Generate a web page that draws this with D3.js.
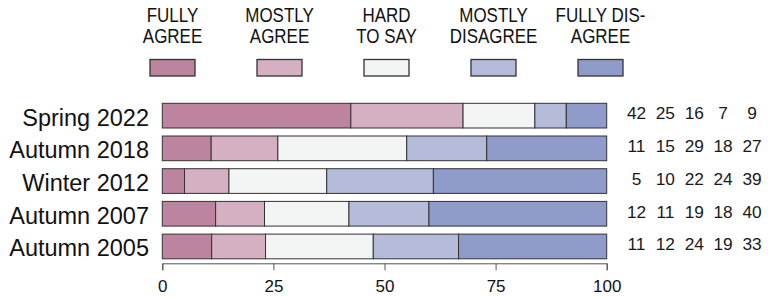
<!DOCTYPE html>
<html>
<head>
<meta charset="utf-8">
<script src="https://cdn.jsdelivr.net/npm/d3@7"></script>
<style>
  html, body { margin: 0; padding: 0; background: #fff; }
  svg { display: block; font-family: "Liberation Sans", Arial, sans-serif; }
</style>
</head>
<body>
<svg class="chart"></svg>
<script>
// survey waves (top to bottom) and share of answers per wave
const periods = ["Spring 2022", "Autumn 2018", "Winter 2012", "Autumn 2007", "Autumn 2005"];
const fullyAgree     = [42, 11, 5, 12, 11];
const mostlyAgree    = [25, 15, 10, 11, 12];
const hardToSay      = [16, 29, 22, 19, 24];
const mostlyDisagree = [7, 18, 24, 18, 19];
const fullyDisagree  = [9, 27, 39, 40, 33];

const answerKeys = ["fa", "ma", "hs", "md", "fd"];
const legendLines = [["FULLY", "AGREE"], ["MOSTLY", "AGREE"], ["HARD", "TO SAY"], ["MOSTLY", "DISAGREE"], ["FULLY DIS-", "AGREE"]];
const colors = ["#bd84a0", "#d5afc2", "#f3f4f4", "#b5bcd9", "#8f9bc9"];
const ticks = [0, 25, 50, 75, 100];

let width = 768, height = 297;
let svg = d3.select('svg.chart')
  .attr('width', width)
  .attr('height', height);

// build rows for the stack
let rows = periods.map((p, i) => ({
  period: p,
  fa: fullyAgree[i], ma: mostlyAgree[i], hs: hardToSay[i],
  md: mostlyDisagree[i], fd: fullyDisagree[i]
}));

// totals are 99..101 from rounding, so bars get stretched to 100
let stacked = d3.stack().keys(answerKeys).offset(d3.stackOffsetExpand)(rows);

let x = d3.scaleLinear().domain([0, 100]).range([162.3, 606.7]);
let y = d3.scaleBand().domain(periods).range([99.3, 262.8])
  .paddingInner(0.245).paddingOuter(0.1225);
let color = d3.scaleOrdinal().domain(answerKeys).range(colors);

/***** Legend *****/
let legendX = d3.scalePoint().domain(answerKeys).range([172.5, 600.5]);
let legend = svg.append('g').attr('class', 'legend');
answerKeys.forEach((k, i) => {
  let cx = legendX(k);
  legendLines[i].forEach((line, j) => {
    legend.append('text')
      .attr('transform', `translate(${cx},${21.8 + j * 21.6}) scale(0.87,1)`)
      .attr('text-anchor', 'middle')
      .attr('font-size', '19.5px')
      .attr('fill', '#111')
      .text(line);
  });
  legend.append('rect')
    .attr('x', cx - 22.5).attr('y', 59.5)
    .attr('width', 45).attr('height', 16.5)
    .attr('fill', color(k))
    .attr('stroke', '#333')
    .attr('stroke-width', 1.3);
});

/***** Bars *****/
svg.append('g').attr('class', 'bars')
  .selectAll('g')
  .data(stacked)
  .join('g')
    .attr('fill', d => color(d.key))
  .selectAll('rect')
  .data(d => d)
  .join('rect')
    .attr('x', d => x(d[0] * 100))
    .attr('y', d => y(d.data.period))
    .attr('width', d => x(d[1] * 100) - x(d[0] * 100))
    .attr('height', y.bandwidth())
    .attr('stroke', '#333')
    .attr('stroke-width', 1);

/***** Row labels *****/
svg.append('g').attr('class', 'labels')
  .selectAll('text')
  .data(periods)
  .join('text')
    .attr('x', 149)
    .attr('y', d => y(d) + y.bandwidth() / 2 + 10)
    .attr('text-anchor', 'end')
    .attr('font-size', '23.5px')
    .attr('fill', '#111')
    .text(d => d);

/***** Numbers on the right *****/
let numX = d3.scalePoint().domain(answerKeys).range([636.5, 752]);
let nums = svg.append('g').attr('class', 'numbers');
rows.forEach(r => {
  answerKeys.forEach(k => {
    nums.append('text')
      .attr('x', numX(k))
      .attr('y', y(r.period) + y.bandwidth() / 2 + 3.8)
      .attr('text-anchor', 'middle')
      .attr('font-size', '17.3px')
      .attr('fill', '#1a1a1a')
      .text(r[k]);
  });
});

/***** Axis *****/
let axis = svg.append('g')
  .attr('transform', 'translate(0,263.3)')
  .call(d3.axisBottom(x).tickValues(ticks).tickSize(7).tickSizeOuter(7).tickPadding(10));
axis.select('.domain').attr('stroke', '#555');
axis.selectAll('.tick line').attr('stroke', '#555');
axis.selectAll('.tick text')
  .attr('font-size', '17px')
  .attr('font-family', '"Liberation Sans", Arial, sans-serif')
  .attr('fill', '#111');
</script>
</body>
</html>
